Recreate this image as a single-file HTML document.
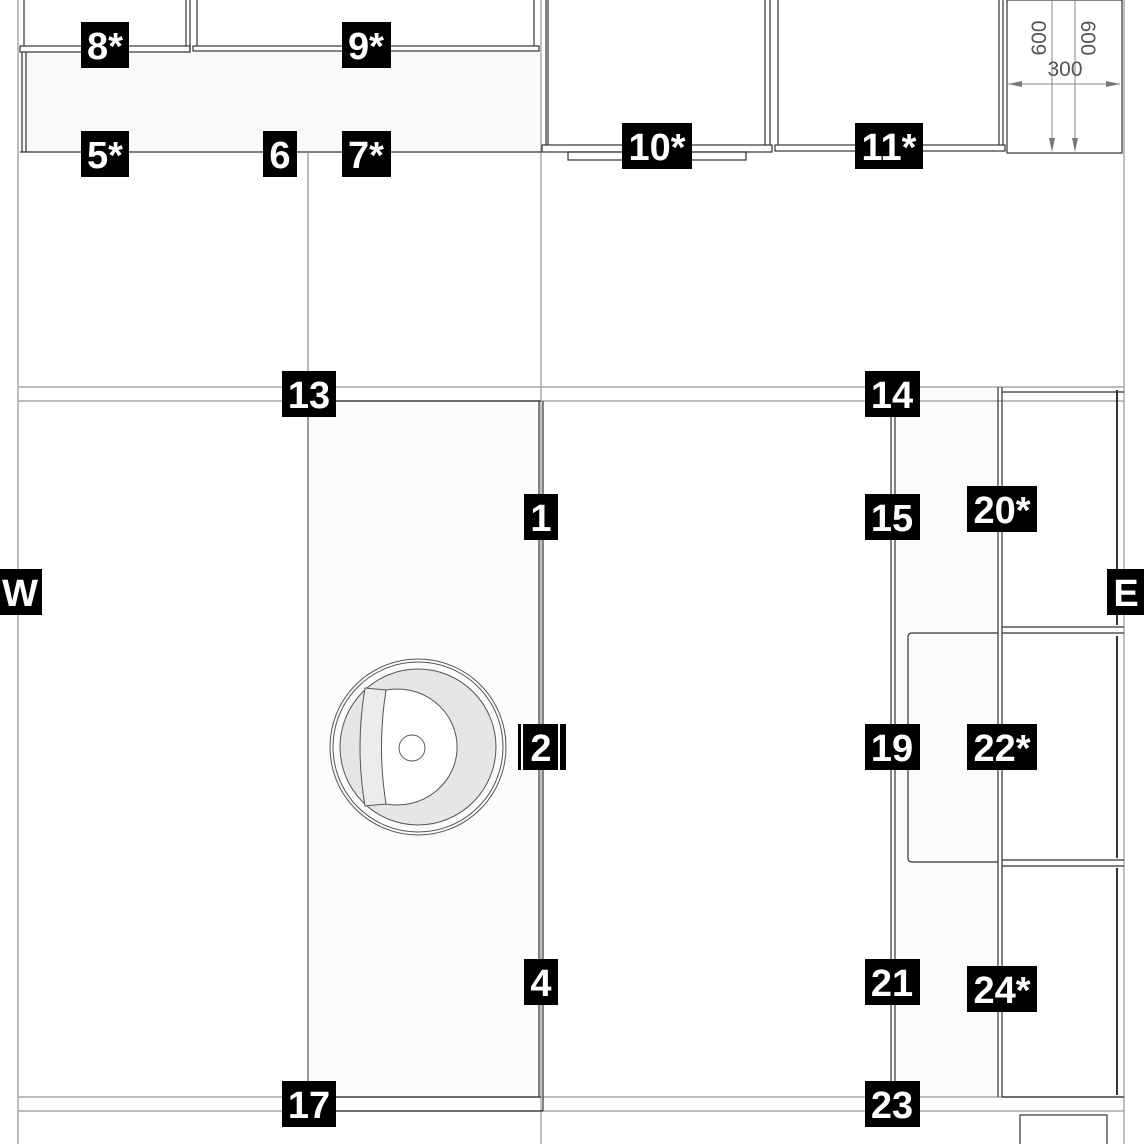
<!DOCTYPE html>
<html><head><meta charset="utf-8"><style>
html,body{margin:0;padding:0;background:#fff}
svg{display:block}
.l{font-family:"Liberation Sans",sans-serif;font-weight:bold;fill:#fff;text-anchor:middle;font-size:38px}
</style></head><body>
<svg width="1144" height="1144" viewBox="0 0 1144 1144" xmlns="http://www.w3.org/2000/svg">
<rect x="22" y="52" width="519" height="100" fill="#fbf9f8"/>
<rect x="308" y="401" width="233" height="696" fill="#fdfbfb"/>
<rect x="893" y="387" width="105" height="710" fill="#fdfbfb"/>
<g stroke="#aaa" stroke-width="1.5" fill="none">
<line x1="18" y1="0" x2="18" y2="1144"/>
<line x1="1124" y1="0" x2="1124" y2="1144"/>
<line x1="541" y1="0" x2="541" y2="1144"/>
<line x1="18" y1="387" x2="1124" y2="387"/>
<line x1="18" y1="401" x2="1124" y2="401"/>
<line x1="18" y1="1097" x2="1124" y2="1097"/>
<line x1="18" y1="1111" x2="1124" y2="1111"/>
</g>
<g stroke="#333" stroke-width="1.2" fill="none">
<line x1="24" y1="0" x2="24" y2="46"/>
<line x1="186" y1="0" x2="186" y2="46"/>
<line x1="190" y1="0" x2="190" y2="52"/>
<line x1="197" y1="0" x2="197" y2="46"/>
<line x1="534" y1="0" x2="534" y2="46"/>
<line x1="546" y1="0" x2="546" y2="145"/>
<rect x="20" y="46" width="170" height="6"/>
<rect x="193" y="46" width="346" height="5"/>
<line x1="22" y1="52" x2="22" y2="152"/>
<line x1="26" y1="52" x2="26" y2="152"/>
<line x1="20" y1="152" x2="541" y2="152"/>
<line x1="308" y1="153" x2="308" y2="401" stroke="#777" stroke-width="1"/>
<line x1="548" y1="0" x2="548" y2="145"/>
<line x1="765" y1="0" x2="765" y2="145"/>
<line x1="770" y1="0" x2="770" y2="145"/>
<rect x="542" y="145" width="230" height="7"/>
<rect x="568" y="152" width="178" height="8"/>
<line x1="778" y1="0" x2="778" y2="145"/>
<line x1="999" y1="0" x2="999" y2="145"/>
<line x1="1003" y1="0" x2="1003" y2="145"/>
<rect x="775" y="145" width="230" height="6"/>
<rect x="1007" y="0" width="115" height="153"/>
<line x1="308" y1="401" x2="308" y2="1111" stroke="#555"/>
<line x1="308" y1="401" x2="541" y2="401"/>
<line x1="539" y1="401" x2="539" y2="1097"/>
<line x1="543" y1="401" x2="543" y2="1111"/>
<line x1="308" y1="1097" x2="541" y2="1097"/>
<line x1="308" y1="1111" x2="543" y2="1111"/>
<line x1="891" y1="401" x2="891" y2="1097"/>
<line x1="895" y1="401" x2="895" y2="1097"/>
<line x1="998" y1="387" x2="998" y2="1097"/>
<line x1="1002" y1="387" x2="1002" y2="1097"/>
<line x1="1002" y1="392" x2="1124" y2="392"/>
<line x1="1002" y1="627" x2="1124" y2="627"/>
<line x1="1002" y1="633" x2="1124" y2="633"/>
<line x1="1002" y1="860" x2="1124" y2="860"/>
<line x1="1002" y1="866" x2="1124" y2="866"/>
<line x1="1002" y1="1097" x2="1124" y2="1097"/>
<line x1="1117" y1="390" x2="1117" y2="625" stroke-width="2"/>
<line x1="1117" y1="636" x2="1117" y2="858" stroke-width="2"/>
<line x1="1117" y1="868" x2="1117" y2="1095" stroke-width="2"/>
<path d="M998 633 H912 Q908 633 908 637 V858 Q908 862 912 862 H998"/>
<rect x="1020" y="1115" width="87" height="32"/>
</g>
<g stroke="#888" stroke-width="1" fill="#777">
<line x1="1008" y1="84" x2="1120" y2="84"/>
<line x1="1052" y1="0" x2="1052" y2="150"/>
<line x1="1075" y1="0" x2="1075" y2="150"/>
<path d="M1008 84 l14 -3 v6z M1120 84 l-14 -3 v6z M1052 152 l-3 -14 h6z M1075 152 l-3 -14 h6z" stroke="none"/>
</g>
<g font-family="Liberation Sans,sans-serif" font-size="21" fill="#555">
<text transform="translate(1046,38) rotate(-90)" text-anchor="middle">600</text>
<text transform="translate(1081,38) rotate(90)" text-anchor="middle">600</text>
<text x="1065" y="76" text-anchor="middle">300</text>
</g>
<g fill="none" stroke="#555" stroke-width="1">
<circle cx="418" cy="747" r="88"/>
<circle cx="418" cy="747" r="85"/>
<circle cx="418" cy="747" r="78" fill="#e6e6e6"/>
<path d="M386 690 A60 58 0 1 1 386 804 Q377 770 377 747 Q377 724 386 690Z" fill="#fff"/>
<path d="M365 688 L386 690 Q377 747 386 804 L365 806 Q355 747 365 688Z" fill="#ececec"/>
<circle cx="412" cy="748" r="13"/>
</g>
<g>
<rect x="81" y="22" width="48" height="46"/><text class="l" x="105" y="59">8*</text>
<rect x="342" y="22" width="49" height="46"/><text class="l" x="366" y="59">9*</text>
<rect x="81" y="131" width="48" height="46"/><text class="l" x="105" y="168">5*</text>
<rect x="263" y="131" width="34" height="46"/><text class="l" x="280" y="168">6</text>
<rect x="342" y="131" width="49" height="46"/><text class="l" x="366" y="168">7*</text>
<rect x="622" y="123" width="70" height="46"/><text class="l" x="657" y="160">10*</text>
<rect x="855" y="123" width="68" height="46"/><text class="l" x="889" y="160">11*</text>
<rect x="282" y="371" width="54" height="46"/><text class="l" x="309" y="408">13</text>
<rect x="865" y="371" width="55" height="46"/><text class="l" x="892" y="408">14</text>
<rect x="524" y="494" width="34" height="46"/><text class="l" x="541" y="531">1</text>
<rect x="865" y="494" width="55" height="46"/><text class="l" x="892" y="531">15</text>
<rect x="967" y="486" width="70" height="46"/><text class="l" x="1002" y="523">20*</text>
<rect x="0" y="569" width="42" height="46"/><text class="l" x="20" y="606">W</text>
<rect x="1107" y="569" width="40" height="46"/><text class="l" x="1126" y="606">E</text>
<rect x="518" y="724" width="48" height="46"/>
<rect x="521" y="724" width="2" height="46" fill="#fff"/>
<rect x="558" y="724" width="2" height="46" fill="#fff"/>
<text class="l" x="541" y="761">2</text>
<rect x="865" y="724" width="55" height="46"/><text class="l" x="892" y="761">19</text>
<rect x="967" y="724" width="70" height="46"/><text class="l" x="1002" y="761">22*</text>
<rect x="524" y="959" width="34" height="46"/><text class="l" x="541" y="996">4</text>
<rect x="865" y="959" width="55" height="46"/><text class="l" x="892" y="996">21</text>
<rect x="967" y="966" width="70" height="46"/><text class="l" x="1002" y="1003">24*</text>
<rect x="282" y="1081" width="54" height="46"/><text class="l" x="309" y="1118">17</text>
<rect x="865" y="1081" width="55" height="46"/><text class="l" x="892" y="1118">23</text>
</g>
</svg>
</body></html>
